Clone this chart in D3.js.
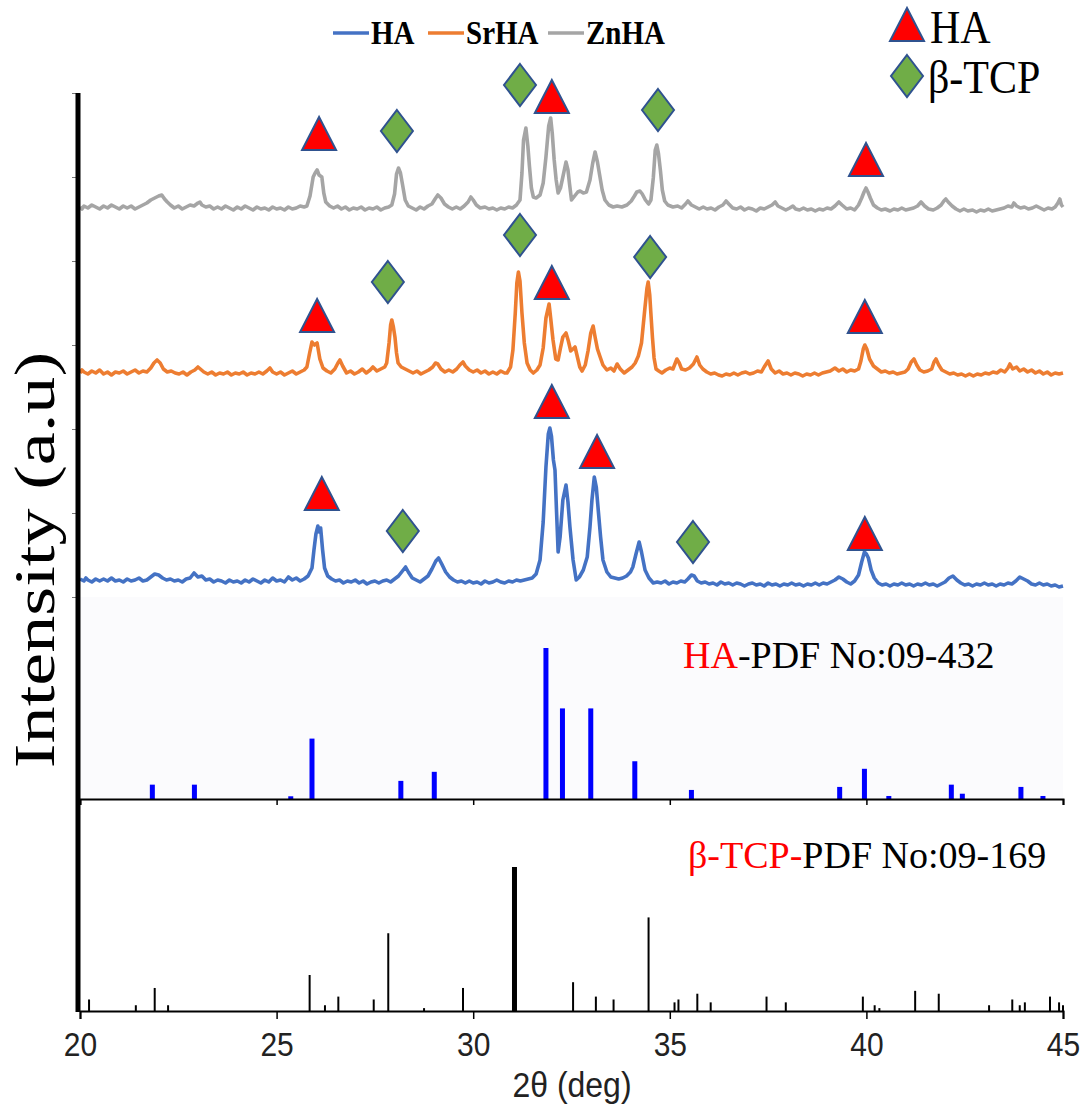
<!DOCTYPE html>
<html lang="en">
<head>
  <meta charset="UTF-8">
  <title>XRD patterns HA / SrHA / ZnHA</title>
  <script src="https://cdn.jsdelivr.net/npm/d3@7"></script>
  <style>
    body { margin: 0; background: #fff; }
    .serif { font-family: "Liberation Serif", "Times New Roman", serif; }
    .sans { font-family: "Liberation Sans", Arial, sans-serif; }
  </style>
</head>
<body>
  <div id="chart"></div>
  <script>
    // --- data ----------------------------------------------------------
    const seriesNames = ["HA", "SrHA", "ZnHA"]
    const seriesColors = ["#4472c4", "#ed7d31", "#a5a5a5"]
    const seriesOffsets = [15, 224, 389]   // vertical stacking, a.u.

    // [2theta, intensity above the pattern's own baseline (a.u.)]
    const haCurve = [[20.0,3],[20.1,1],[20.15,4],[20.2,2],[20.3,0],[20.4,3],[20.5,1],[20.6,3],[20.7,1],[20.8,4],[20.9,1],[21.0,2],[21.1,0],[21.2,3],[21.3,1],[21.4,2],[21.5,4],[21.6,1],[21.7,2],[21.8,5],[21.9,8],[22.0,7],[22.1,4],[22.2,2],[22.3,3],[22.4,1],[22.5,2],[22.6,0],[22.7,3],[22.8,4],[22.9,9],[23.0,5],[23.1,6],[23.2,2],[23.3,3],[23.4,0],[23.5,2],[23.6,1],[23.7,-1],[23.8,2],[23.9,0],[24.0,1],[24.1,-1],[24.2,2],[24.3,0],[24.4,3],[24.5,1],[24.6,-1],[24.7,2],[24.8,0],[24.9,4],[25.0,1],[25.1,2],[25.2,0],[25.3,5],[25.4,2],[25.5,4],[25.6,1],[25.7,3],[25.8,6],[25.9,14],[25.95,32],[26.0,48],[26.05,56],[26.08,50],[26.12,54],[26.17,32],[26.22,14],[26.3,6],[26.4,3],[26.5,1],[26.6,2],[26.7,-1],[26.8,1],[26.9,0],[27.0,2],[27.1,-1],[27.2,1],[27.3,-2],[27.4,0],[27.5,1],[27.6,-1],[27.7,1],[27.8,2],[27.9,0],[28.0,3],[28.1,6],[28.2,11],[28.28,15],[28.35,10],[28.45,4],[28.55,2],[28.65,0],[28.75,3],[28.85,6],[28.95,13],[29.05,21],[29.12,24],[29.2,18],[29.3,10],[29.4,5],[29.5,2],[29.6,0],[29.7,1],[29.8,-1],[29.9,1],[30.0,-1],[30.1,0],[30.2,-2],[30.3,1],[30.4,-1],[30.5,0],[30.6,2],[30.7,0],[30.8,-1],[30.9,1],[31.0,0],[31.1,2],[31.2,1],[31.3,2],[31.4,3],[31.5,4],[31.6,8],[31.7,22],[31.78,60],[31.85,115],[31.91,148],[31.95,154],[31.99,146],[32.04,122],[32.08,112],[32.12,70],[32.16,30],[32.21,45],[32.28,82],[32.36,97],[32.41,80],[32.46,55],[32.54,22],[32.62,2],[32.7,5],[32.8,12],[32.9,25],[32.97,55],[33.02,82],[33.08,105],[33.13,95],[33.18,72],[33.24,45],[33.3,22],[33.4,10],[33.5,5],[33.6,4],[33.7,3],[33.8,4],[33.9,6],[34.0,10],[34.06,15],[34.14,28],[34.22,40],[34.28,30],[34.37,12],[34.47,4],[34.58,-1],[34.68,0],[34.78,-1],[34.88,1],[34.98,-2],[35.08,0],[35.18,-1],[35.28,1],[35.38,0],[35.46,3],[35.55,7],[35.62,6],[35.7,1],[35.8,-1],[35.9,0],[36.0,-2],[36.1,-1],[36.2,-3],[36.3,0],[36.4,-2],[36.5,-1],[36.6,-3],[36.7,-1],[36.8,-2],[36.9,-4],[37.0,-2],[37.1,-1],[37.2,-3],[37.3,-2],[37.4,-4],[37.5,-1],[37.6,-3],[37.7,-2],[37.8,-4],[37.9,-2],[38.0,-3],[38.1,-1],[38.2,-3],[38.3,-2],[38.4,-4],[38.5,-2],[38.6,-3],[38.7,-1],[38.8,-3],[38.9,-1],[39.0,-2],[39.1,0],[39.2,2],[39.3,5],[39.4,3],[39.5,0],[39.6,-2],[39.7,1],[39.8,7],[39.88,20],[39.95,30],[40.0,28],[40.05,24],[40.12,12],[40.2,4],[40.3,-1],[40.4,-3],[40.5,-2],[40.6,-4],[40.7,-2],[40.8,-3],[40.9,-1],[41.0,-3],[41.1,-2],[41.2,-4],[41.3,-2],[41.4,-3],[41.5,-1],[41.6,-3],[41.7,-2],[41.8,-4],[41.9,-2],[42.0,0],[42.1,4],[42.2,6],[42.3,2],[42.4,-1],[42.5,-3],[42.6,-2],[42.7,-4],[42.8,-2],[42.9,-3],[43.0,-1],[43.1,-3],[43.2,-2],[43.3,-4],[43.4,-2],[43.5,-3],[43.6,-1],[43.7,-2],[43.8,1],[43.9,5],[44.0,3],[44.1,1],[44.2,-2],[44.3,-3],[44.4,-1],[44.5,-3],[44.6,-2],[44.7,-4],[44.8,-3],[44.9,-5],[45.0,-4]]

    const srhaCurve = [[20.0,0],[20.05,3],[20.1,1],[20.2,-1],[20.3,2],[20.4,0],[20.5,3],[20.6,-1],[20.7,1],[20.8,-2],[20.9,1],[21.0,0],[21.1,2],[21.2,-1],[21.3,1],[21.4,3],[21.5,0],[21.6,2],[21.7,1],[21.8,5],[21.88,10],[21.96,13],[22.04,10],[22.12,4],[22.22,1],[22.32,2],[22.42,0],[22.52,-1],[22.62,1],[22.72,-2],[22.82,1],[22.92,3],[23.0,6],[23.06,4],[23.15,1],[23.25,-1],[23.35,1],[23.45,-2],[23.55,0],[23.65,-1],[23.75,1],[23.85,-2],[23.95,0],[24.05,-1],[24.15,1],[24.25,-2],[24.35,0],[24.45,-1],[24.55,1],[24.65,-1],[24.75,2],[24.83,5],[24.9,1],[25.0,-1],[25.1,1],[25.2,-2],[25.3,0],[25.4,2],[25.5,-1],[25.6,1],[25.7,3],[25.77,6],[25.84,20],[25.9,31],[25.96,28],[26.03,30],[26.1,14],[26.18,5],[26.28,2],[26.38,0],[26.48,4],[26.56,10],[26.61,13],[26.68,7],[26.78,0],[26.88,2],[26.98,-1],[27.08,1],[27.18,4],[27.28,0],[27.38,3],[27.45,6],[27.55,2],[27.65,4],[27.75,6],[27.8,10],[27.86,30],[27.9,48],[27.93,53],[27.97,46],[28.01,36],[28.05,20],[28.09,10],[28.17,6],[28.27,4],[28.37,2],[28.47,0],[28.57,2],[28.67,-1],[28.77,1],[28.87,3],[28.97,6],[29.04,10],[29.1,9],[29.18,4],[29.28,1],[29.38,3],[29.48,1],[29.58,4],[29.66,8],[29.74,11],[29.8,7],[29.9,3],[30.0,1],[30.1,3],[30.2,0],[30.3,2],[30.4,-1],[30.5,1],[30.6,-1],[30.7,2],[30.8,0],[30.86,0],[30.95,6],[31.01,23],[31.07,60],[31.11,90],[31.15,101],[31.19,92],[31.24,60],[31.3,30],[31.37,10],[31.45,3],[31.53,0],[31.62,3],[31.7,8],[31.78,25],[31.85,55],[31.89,62],[31.93,69],[31.97,55],[32.03,33],[32.1,14],[32.16,13],[32.22,25],[32.28,36],[32.36,40],[32.42,32],[32.48,22],[32.54,24],[32.59,26],[32.65,16],[32.71,6],[32.77,2],[32.85,8],[32.92,22],[32.99,40],[33.05,47],[33.1,36],[33.16,24],[33.22,17],[33.3,8],[33.4,3],[33.5,5],[33.58,2],[33.66,9],[33.74,4],[33.84,0],[33.94,3],[34.04,6],[34.12,10],[34.2,17],[34.28,30],[34.33,50],[34.37,66],[34.42,85],[34.45,91],[34.49,78],[34.52,59],[34.56,35],[34.6,15],[34.65,4],[34.72,2],[34.8,0],[34.9,3],[35.0,5],[35.08,4],[35.14,10],[35.18,14],[35.24,10],[35.3,4],[35.4,3],[35.5,5],[35.6,9],[35.69,16],[35.76,8],[35.84,4],[35.94,1],[36.04,-1],[36.14,0],[36.24,-2],[36.33,-3],[36.43,-1],[36.53,-2],[36.63,0],[36.73,-2],[36.83,0],[36.93,1],[37.03,-1],[37.13,0],[37.23,2],[37.33,1],[37.4,6],[37.5,12],[37.58,4],[37.68,0],[37.78,2],[37.88,-1],[37.98,0],[38.08,-2],[38.18,0],[38.28,-1],[38.38,-3],[38.48,-1],[38.58,-2],[38.68,0],[38.78,-2],[38.88,0],[38.98,1],[39.08,2],[39.2,5],[39.3,2],[39.4,4],[39.5,1],[39.6,3],[39.7,2],[39.8,4],[39.86,12],[39.92,24],[39.96,28],[40.01,24],[40.08,14],[40.18,7],[40.28,4],[40.38,1],[40.48,2],[40.58,0],[40.68,1],[40.78,-1],[40.88,0],[40.98,1],[41.06,4],[41.14,11],[41.21,14],[41.28,8],[41.36,3],[41.46,1],[41.56,2],[41.66,4],[41.72,11],[41.77,14],[41.84,8],[41.92,3],[42.02,1],[42.12,-1],[42.22,0],[42.32,-2],[42.42,-1],[42.52,-3],[42.62,-1],[42.72,-3],[42.82,-1],[42.92,-2],[43.02,0],[43.12,-1],[43.22,1],[43.32,0],[43.42,3],[43.52,1],[43.6,5],[43.65,9],[43.72,4],[43.82,6],[43.9,2],[44.0,4],[44.1,1],[44.2,3],[44.3,0],[44.4,2],[44.5,-1],[44.6,1],[44.7,-2],[44.8,0],[44.9,-1],[45.0,0]]

    const znhaCurve = [[20.0,1],[20.05,-1],[20.1,2],[20.2,0],[20.3,3],[20.4,1],[20.5,-1],[20.6,2],[20.7,0],[20.8,3],[20.9,1],[21.0,-1],[21.1,2],[21.2,0],[21.3,2],[21.4,-1],[21.5,1],[21.6,3],[21.7,5],[21.8,8],[21.9,10],[22.0,12],[22.08,13],[22.15,9],[22.22,6],[22.3,3],[22.4,0],[22.5,2],[22.6,-1],[22.7,1],[22.8,3],[22.9,2],[23.0,5],[23.05,6],[23.1,3],[23.2,1],[23.3,2],[23.4,-1],[23.5,1],[23.6,-1],[23.7,2],[23.8,0],[23.9,-2],[24.0,1],[24.1,-1],[24.2,2],[24.3,0],[24.4,-2],[24.5,1],[24.6,-1],[24.7,0],[24.8,-2],[24.9,1],[25.0,-1],[25.1,0],[25.2,-2],[25.3,1],[25.4,-1],[25.5,0],[25.6,2],[25.7,1],[25.77,2],[25.85,12],[25.93,31],[25.98,35],[26.03,38],[26.08,33],[26.15,31],[26.2,15],[26.25,6],[26.35,2],[26.45,0],[26.55,2],[26.65,-1],[26.75,1],[26.85,-2],[26.95,0],[27.05,-1],[27.15,1],[27.25,-2],[27.35,0],[27.45,-1],[27.55,1],[27.65,-2],[27.75,0],[27.85,1],[27.93,3],[28.0,14],[28.05,34],[28.1,40],[28.15,35],[28.2,24],[28.27,8],[28.35,2],[28.45,0],[28.55,-2],[28.65,1],[28.75,-1],[28.85,2],[28.95,4],[29.03,9],[29.1,13],[29.18,10],[29.27,4],[29.37,1],[29.47,-1],[29.57,1],[29.67,-1],[29.77,2],[29.87,6],[29.94,11],[30.0,8],[30.08,3],[30.18,0],[30.3,1],[30.4,-1],[30.5,0],[30.6,-2],[30.7,0],[30.8,-1],[30.9,1],[31.0,0],[31.1,3],[31.19,8],[31.24,35],[31.28,68],[31.34,80],[31.39,62],[31.43,42],[31.48,20],[31.53,11],[31.6,10],[31.7,13],[31.78,25],[31.85,51],[31.92,82],[31.97,90],[32.01,75],[32.06,48],[32.11,28],[32.16,15],[32.22,20],[32.28,31],[32.36,46],[32.41,38],[32.45,24],[32.5,8],[32.58,12],[32.66,16],[32.72,17],[32.8,15],[32.88,16],[32.97,28],[33.04,45],[33.1,56],[33.16,46],[33.22,32],[33.28,18],[33.35,8],[33.45,3],[33.56,1],[33.66,2],[33.78,1],[33.91,3],[34.02,7],[34.1,12],[34.16,16],[34.24,17],[34.3,14],[34.38,8],[34.46,4],[34.52,8],[34.58,30],[34.63,58],[34.67,63],[34.71,55],[34.76,38],[34.81,18],[34.87,7],[34.95,3],[35.08,1],[35.2,2],[35.3,0],[35.4,4],[35.46,7],[35.55,3],[35.65,1],[35.75,-1],[35.85,1],[35.95,-1],[36.05,0],[36.15,-2],[36.25,1],[36.35,3],[36.43,7],[36.5,4],[36.6,0],[36.7,-1],[36.8,1],[36.9,-2],[37.0,0],[37.1,-1],[37.2,-3],[37.3,0],[37.4,-1],[37.5,1],[37.6,3],[37.68,6],[37.75,2],[37.85,0],[37.95,-2],[38.05,0],[38.13,2],[38.2,-1],[38.3,-2],[38.4,0],[38.5,-2],[38.6,-1],[38.7,-3],[38.8,-1],[38.9,-2],[39.0,0],[39.1,-1],[39.2,2],[39.3,6],[39.38,3],[39.5,-1],[39.6,0],[39.7,-2],[39.8,3],[39.88,10],[39.94,16],[39.99,20],[40.04,16],[40.1,10],[40.18,3],[40.28,0],[40.38,-2],[40.48,-1],[40.6,-3],[40.7,-1],[40.8,-2],[40.9,0],[41.0,-2],[41.1,-1],[41.2,0],[41.3,2],[41.39,6],[41.48,2],[41.58,-1],[41.7,-2],[41.8,0],[41.9,3],[41.97,7],[42.02,9],[42.08,6],[42.18,2],[42.28,-1],[42.38,-3],[42.48,-1],[42.58,-3],[42.7,-2],[42.8,-4],[42.9,-2],[43.0,-3],[43.1,-1],[43.2,-3],[43.3,-2],[43.4,-1],[43.5,0],[43.6,2],[43.7,1],[43.75,5],[43.82,2],[43.92,0],[44.02,1],[44.12,-1],[44.22,0],[44.32,2],[44.42,0],[44.52,-2],[44.62,0],[44.72,-1],[44.8,1],[44.87,5],[44.92,9],[44.96,3],[45.0,1]]

    // phase markers: [2theta, kind, height above the pattern baseline (a.u.)]
    const haMarks = [[26.15,"HA",88],[28.21,"TCP",51],[32.0,"HA",180],[33.15,"HA",130],[35.59,"TCP",40],[39.96,"HA",48]]
    const srhaMarks = [[26.03,"HA",57],[27.83,"TCP",91],[31.19,"TCP",138],[32.0,"HA",90],[34.5,"TCP",116],[39.96,"HA",56]]
    const znhaMarks = [[26.08,"HA",74],[28.06,"TCP",77],[31.19,"TCP",123],[32.0,"HA",111],[34.7,"TCP",98],[39.99,"HA",48]]

    // reference cards: [2theta, relative intensity]
    const haPdf = [[21.84,9.5],[22.91,9.5],[25.36,1.8],[25.9,40],[28.16,12],[29.01,18],[31.85,100],[32.27,60],[32.99,60],[34.11,25],[35.55,6],[39.32,8],[39.95,20],[40.57,2],[42.16,9.5],[42.44,3.5],[43.93,8],[44.49,2]]
    const tcpPdf = [[20.23,8],[21.42,4],[21.9,16],[22.24,4],[25.84,25],[26.23,4],[26.57,10],[27.47,8],[27.84,54],[28.75,2],[29.74,16],[31.05,100],[32.54,20],[33.12,10],[33.57,8],[34.46,65],[35.12,6],[35.22,8],[35.7,12],[36.04,6],[37.46,10],[37.95,6],[39.91,10],[40.21,4],[40.33,2],[41.24,14],[41.84,12],[43.12,4],[43.71,8],[43.9,4],[44.03,6],[44.67,10],[44.9,6],[45.0,4]]

    const xTicks = [20, 25, 30, 35, 40, 45]

    // --- layout ---------------------------------------------------------
    const width = 1088
    const height = 1106

    const x = d3.scaleLinear().domain([20, 45]).range([80, 1063])
    const yTop = d3.scaleLinear().domain([0, 504]).range([597, 93])
    const yHA = d3.scaleLinear().domain([0, 100]).range([799, 648])
    const yTCP = d3.scaleLinear().domain([0, 100]).range([1011, 867])

    const svg = d3.select("#chart")
      .append("svg")
      .attr("width", width)
      .attr("height", height)

    // faint panel behind the HA card
    svg.append("rect")
      .attr("x", x(20)).attr("y", yTop(0))
      .attr("width", x(45) - x(20)).attr("height", yHA(0) - yTop(0))
      .attr("fill", "#fbfbfd")

    // little ticks of the upper panel
    svg.append("g")
      .attr("transform", `translate(${x(20) - 2}, 0)`)
      .call(d3.axisLeft(yTop).tickValues(d3.range(0, 505, 84)).tickSize(6).tickFormat(""))
      .call(g => g.select(".domain").remove())
      .call(g => g.selectAll("line").attr("stroke", "#777").attr("stroke-width", 1))

    // patterns
    const curves = [haCurve, srhaCurve, znhaCurve]
    const marks = [haMarks, srhaMarks, znhaMarks]

    curves.forEach((data, i) => {
      const line = d3.line()
        .x(d => x(d[0]))
        .y(d => yTop(d[1] + seriesOffsets[i]))
      svg.append("path")
        .datum(data)
        .attr("fill", "none")
        .attr("stroke", seriesColors[i])
        .attr("stroke-width", 3.6)
        .attr("stroke-linejoin", "round")
        .attr("d", line)
    })

    const triPath = "M0,-17 L17,16 L-17,16 Z"
    const diaPath = "M0,-21 L16,0 L0,21 L-16,0 Z"
    const markerStyle = sel => sel
      .attr("d", d => d[1] === "HA" ? triPath : diaPath)
      .attr("fill", d => d[1] === "HA" ? "#ff0000" : "#70ad47")
      .attr("stroke", "#2f528f")
      .attr("stroke-width", 2)
      .attr("stroke-linejoin", "miter")

    marks.forEach((data, i) => {
      svg.append("g").selectAll("path")
        .data(data)
        .enter()
        .append("path")
        .attr("transform", d => `translate(${x(d[0])}, ${yTop(d[2] + seriesOffsets[i])})`)
        .call(markerStyle)
    })

    // HA reference card
    svg.append("g").selectAll("rect")
      .data(haPdf)
      .enter()
      .append("rect")
      .attr("x", d => x(d[0]) - 2.5)
      .attr("y", d => yHA(d[1]))
      .attr("width", 5)
      .attr("height", d => yHA(0) - yHA(d[1]))
      .attr("fill", "#0000ff")

    svg.append("g")
      .attr("transform", `translate(0, ${yHA(0)})`)
      .call(d3.axisBottom(x).tickValues(xTicks).tickSize(6).tickFormat(""))
      .call(g => g.select(".domain").attr("stroke", "#000").attr("stroke-width", 2))
      .call(g => g.selectAll(".tick line").attr("stroke", "#000").attr("stroke-width", 1.5))

    // beta-TCP reference card
    svg.append("g").selectAll("line")
      .data(tcpPdf)
      .enter()
      .append("line")
      .attr("x1", d => x(d[0]))
      .attr("x2", d => x(d[0]))
      .attr("y1", yTCP(0))
      .attr("y2", d => yTCP(d[1]))
      .attr("stroke", "#000")
      .attr("stroke-width", d => d[1] === 100 ? 5 : 2)

    svg.append("g")
      .attr("transform", `translate(0, ${yTCP(0)})`)
      .call(d3.axisBottom(x).tickValues(xTicks).tickSize(8))
      .call(g => g.select(".domain").attr("stroke", "#000").attr("stroke-width", 2))
      .call(g => g.selectAll(".tick line").attr("stroke", "#000").attr("stroke-width", 1.5))
      .call(g => g.selectAll(".tick text")
        .attr("class", "sans")
        .attr("y", null).attr("dy", null)
        .attr("transform", "translate(0, 45) scale(1, 1.12)")
        .attr("font-size", 30)
        .attr("fill", "#222"))

    // thick left axis
    svg.append("line")
      .attr("x1", x(20) - 2).attr("x2", x(20) - 2)
      .attr("y1", yTop(504)).attr("y2", yTCP(0) + 1)
      .attr("stroke", "#000")
      .attr("stroke-width", 5)

    // --- texts ----------------------------------------------------------
    const label = (px, py, cls, size, k) => svg.append("text")
      .attr("class", cls)
      .attr("transform", `translate(${px}, ${py}) scale(1, ${k})`)
      .attr("font-size", size)

    label(572, 1097, "sans", 32, 1.1).attr("text-anchor", "middle").attr("fill", "#222").text("2θ (deg)")

    svg.append("text")
      .attr("class", "serif")
      .attr("transform", "translate(54, 560) scale(1, 1.28) rotate(-90)")
      .attr("text-anchor", "middle")
      .attr("font-size", 58)
      .text("Intensity (a.u)")

    const haTitle = label(683, 668, "serif", 38, 1)
    haTitle.append("tspan").attr("fill", "#ff0000").text("HA")
    haTitle.append("tspan").attr("fill", "#000").text("-PDF No:09-432")

    const tcpTitle = label(688, 868, "serif", 38, 1)
    tcpTitle.append("tspan").attr("fill", "#ff0000").text("β-TCP-")
    tcpTitle.append("tspan").attr("fill", "#000").text("PDF No:09-169")

    // line legend
    const legendX = [333, 428, 548]
    seriesNames.forEach((name, i) => {
      svg.append("line")
        .attr("x1", legendX[i]).attr("x2", legendX[i] + 36)
        .attr("y1", 33).attr("y2", 33)
        .attr("stroke", seriesColors[i])
        .attr("stroke-width", 3.5)
      label(legendX[i] + 38, 44, "serif", 29, 1.15).attr("font-weight", "bold").text(name)
    })

    // marker legend
    svg.append("g").selectAll("path")
      .data([[0, "HA", 25], [0, "TCP", 76]])
      .enter()
      .append("path")
      .attr("transform", d => `translate(907, ${d[2]})`)
      .call(markerStyle)
    label(930, 43, "serif", 42, 1.08).text("HA")
    label(928, 93, "serif", 42, 1.08).text("β-TCP")
  </script>
</body>
</html>
